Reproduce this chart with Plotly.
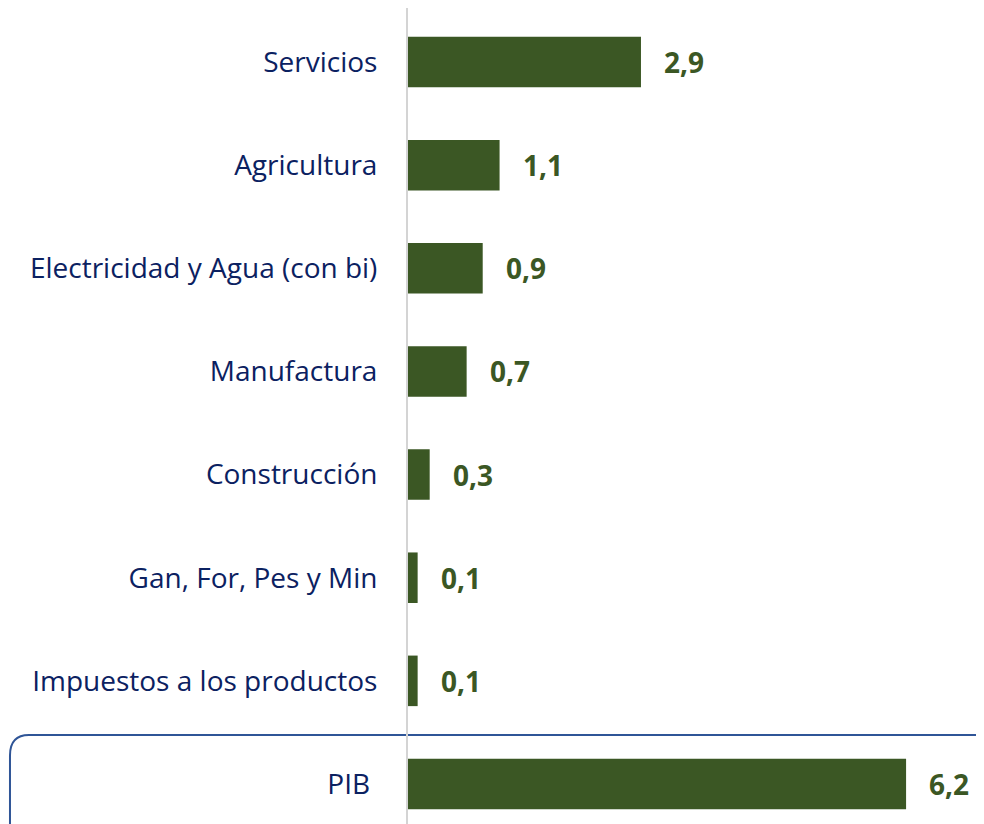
import plotly.graph_objects as go

# data (top to bottom)
sectores = ["Servicios", "Agricultura", "Electricidad y Agua (con bi)", "Manufactura",
            "Construcción", "Gan, For, Pes y Min", "Impuestos a los productos", "PIB"]
valores = [2.9, 1.14, 0.93, 0.73, 0.27, 0.12, 0.12, 6.2]
etiquetas = ["2,9", "1,1", "0,9", "0,7", "0,3", "0,1", "0,1", "6,2"]
rotulos = sectores[:-1] + ["PIB\u00a0"]

verde = "#3B5724"
azul = "#0B2161"
fuente = "Open Sans"

fig = go.Figure()
fig.add_bar(x=valores, y=sectores, orientation="h", width=0.49,
            marker=dict(color=verde, line=dict(width=0)), hoverinfo="skip")

for s, v, t in zip(sectores, valores, etiquetas):
    fig.add_annotation(x=v, y=s, text=t, showarrow=False, xanchor="left",
                       xshift=21, font=dict(family=fuente, size=28, color=verde, weight="bold"))

# rounded box around PIB row (paper coords)
x0, x1 = -0.691, 1.05
y0, y1 = -0.03, 0.109
rx, ry = 0.033, 0.025
path = (f"M {x0+rx},{y1} L {x1},{y1} L {x1},{y0} L {x0},{y0} L {x0},{y1-ry} "
        f"Q {x0},{y1} {x0+rx},{y1} Z")
fig.add_shape(type="path", path=path, xref="paper", yref="paper",
              line=dict(color="#2F5597", width=2), layer="below")

fig.update_layout(
    width=976, height=816,
    margin=dict(l=400, r=0, t=0, b=0),
    plot_bgcolor="white", paper_bgcolor="white",
    showlegend=False,
    font=dict(family=fuente, color=azul, size=28),
    xaxis=dict(range=[0, 7.17], visible=False, showgrid=False, zeroline=False),
    yaxis=dict(type="category", categoryarray=sectores, range=[7.388, -0.524],
               tickvals=sectores, ticktext=rotulos,
               showgrid=False, zeroline=False, showline=True, linecolor="#D4D4D4",
               linewidth=2, ticks="", ticklabelstandoff=23,
               tickfont=dict(family=fuente, size=28, color=azul)),
)

fig.write_html("out.html")
